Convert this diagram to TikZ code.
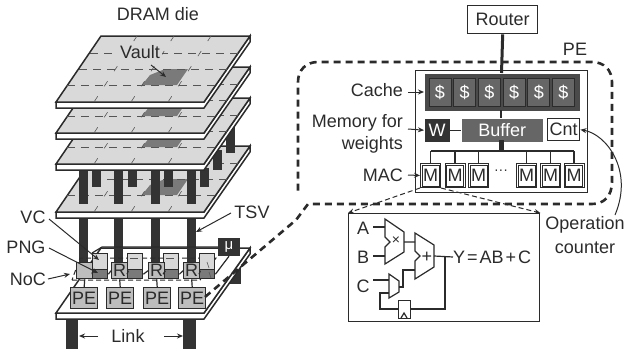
\documentclass[tikz,border=0pt]{standalone}
\usepackage{fontspec}
\setmainfont{Liberation Sans}
\usetikzlibrary{arrows.meta}
\definecolor{ink}{HTML}{2B2B2B}
\definecolor{plategray}{HTML}{D9D9D9}
\definecolor{vaultgray}{HTML}{7A7A7A}
\definecolor{pillar}{HTML}{333333}
\definecolor{midgray}{HTML}{BDBDBD}
\definecolor{cachegray}{HTML}{4A4A4A}
\definecolor{cellgray}{HTML}{666666}
\tikzset{
  lbl/.style={inner sep=0pt,font=\fontsize{18}{20}\selectfont,text=ink},
  smalllbl/.style={inner sep=0pt,font=\fontsize{14}{16}\selectfont,text=ink},
  ptr/.style={draw=ink,line width=1pt,-{Stealth[length=6pt,width=5pt]}},
  wire/.style={draw=ink,line width=1.2pt},
  plateedge/.style={draw=ink,line width=1.5pt},
  griddash/.style={draw=ink!80,line width=.6pt,dash pattern=on 8pt off 6pt},
  griddiag/.style={draw=ink!80,line width=.6pt,dash pattern=on 6pt off 12pt},
  tsvbar/.style={fill=pillar,draw=none},
  boxn/.style={draw=ink,line width=1.4pt,inner sep=0pt,anchor=north west,text=ink,font=\fontsize{18}{20}\selectfont},
  penode/.style={boxn,fill=midgray,minimum width=27pt,minimum height=21pt},
  rnode/.style={boxn,fill=midgray,minimum width=16pt,minimum height=16pt},
  mnode/.style={draw=ink,line width=1pt,inner sep=0pt,anchor=north west,text=ink,fill=white,font=\fontsize{18}{20}\selectfont,minimum width=20pt,minimum height=24pt},
  cellnode/.style={draw=ink,fill=cellgray,line width=1pt,inner sep=0pt,anchor=north west,minimum width=22pt,minimum height=28pt,text=white,font=\fontsize{18}{20}\selectfont},
  thickdash/.style={draw=ink,line width=2.6pt,dash pattern=on 7pt off 5pt},
  thindash/.style={draw=ink,line width=1pt,dash pattern=on 5pt off 3pt},
}
\newcommand{\myplate}[1]{%
  \begin{scope}[shift={(0,#1)}]
    \filldraw[plateedge,fill=white] (56,102) -- (204,102) -- (250,36) -- (250,42) -- (204,108) -- (56,108) -- cycle;
    \filldraw[plateedge,fill=plategray] (101,36) -- (250,36) -- (204,102) -- (56,102) -- cycle;
    \fill[vaultgray] (165,69) -- (188,69) -- (177,85) -- (142,85) -- (150,75) -- cycle;
    \draw[griddash] (90,53) -- (238,53) (79,69) -- (227,69) (67,85) -- (215,85);
    \foreach \a/\b in {137/94,174/131,211/168}{\draw[griddiag] (\a,36) -- (\b,102);}
  \end{scope}}
\begin{document}
\begin{tikzpicture}[x=1pt,y=-1pt]
\useasboundingbox (0,0) rectangle (627,351);
% legs and base die
\fill[pillar] (229,258) rectangle (241,284);
\fill[pillar] (66,319) rectangle (78,349);
\fill[pillar] (183,319) rectangle (196,349);
\filldraw[plateedge,fill=white] (56,313) -- (204,313) -- (250,248) -- (250,254) -- (204,319) -- (56,319) -- cycle;
\filldraw[plateedge,fill=white] (101,248) -- (250,248) -- (204,313) -- (56,313) -- cycle;
% lower TSV
\foreach \x in {79,114,151,187}{\fill[tsvbar] (\x,215) rectangle (\x+9,262);}
% logic die contents
\draw[thindash] (72,280) -- (200,280) -- (216,258) -- (80,258) -- cycle;
\foreach \x/\n in {92/a,127/b,163/c,199/d}{
  \node[boxn,fill=plategray,minimum width=15pt,minimum height=16pt] (vc\n) at (\x,253) {};
  \node[boxn,fill=vaultgray,minimum width=15pt,minimum height=9pt] (png\n) at (\x,269) {};
}
\draw[griddash] (130,258) -- (139,258) (166,258) -- (176,258);
\draw[griddash] (207,262) -- (209,268) (209,272) -- (211,278);
\node[rnode,fill=midgray] (ra) at (76,262) {};
\node[rnode] (rb) at (111,262) {R};
\node[rnode] (rc) at (148,262) {R};
\node[rnode] (rd) at (183,262) {R};
\draw[wire] (ra.east) -- (pnga.west) (pnga.east) -- (rb.west) (rb.east) -- (pngb.west) (pngb.east) -- (rc.west) (rc.east) -- (pngc.west) (pngc.east) -- (rd.west) (rd.east) -- (pngd.west);
\node[penode] (pea) at (70,287) {PE};
\node[penode] (peb) at (106,287) {PE};
\node[penode] (pec) at (143,287) {PE};
\node[penode] (ped) at (178,287) {PE};
\foreach \a/\b in {a/a,b/b,c/c,d/d}{\draw[wire] (r\a.south) -- (pe\b.north);}
\node[fill=pillar,text=white,inner sep=0pt,minimum width=22pt,minimum height=18pt,font=\fontsize{15}{16}\selectfont] (mu) at (229,247) {μ};
\draw[wire] (vca.north west) -- (102,247) -- (mu.west);
\draw[wire] (mu.south) -- (pngd.east);
% upper TSV behind plate 4
\myplate{110}
\foreach \x in {79,114,151,187}{\fill[tsvbar] (\x,168) rectangle (\x+9,204);}
\foreach \x in {92,128,164,200}{\fill[tsvbar] (\x,168) rectangle (\x+9,187);}
\fill[tsvbar] (213,150) rectangle (222,170);
\fill[tsvbar] (226,125) rectangle (235,153);
\myplate{62}
\myplate{31}
\myplate{0}
% left labels
\node[lbl] (dram) at (158,14) {DRAM die};
\node[lbl,fill=plategray,inner xsep=2pt] (vault) at (140,52) {Vault};
\coordinate (vaultpt) at (166,77);
\draw[ptr] (151,65) -- (vaultpt);
\node[lbl] (vclbl) at (33,217) {VC};
\node[lbl] (pnglbl) at (26,247) {PNG};
\node[lbl] (noclbl) at (28,279) {NoC};
\node[lbl] (tsvlbl) at (252,212) {TSV};
\node[lbl] (linklbl) at (128,336) {Link};
\coordinate (vcpt) at (99,260);
\coordinate (pngpt) at (98,273);
\coordinate (nocpt) at (70,274);
\coordinate (tsvpt) at (196,232);
\coordinate (lefta) at (79,336);
\coordinate (righta) at (183,336);
\draw[ptr] (49,219) -- (vcpt);
\draw[ptr] (49,248) -- (pngpt);
\draw[ptr] (48,279) -- (nocpt);
\draw[ptr] (231,213) -- (tsvpt);
\draw[ptr] (98,336) -- (lefta);
\draw[ptr] (164,336) -- (righta);
% PE detail
\coordinate (dashstart) at (205,297);
\draw[thickdash] (dashstart) -- (296,220) -- (308,204) -- (592,204) .. controls (604,204) and (612,196) .. (612,182) -- (612,82) .. controls (612,70) and (604,62) .. (592,62) -- (318,62) .. controls (306,62) and (298,70) .. (298,82) -- (298,195);
\node[boxn,fill=white,minimum width=70pt,minimum height=28pt] (router) at (467,5) {Router};
\node[lbl] (pelbl) at (575,49) {PE};
\node[boxn,fill=white,minimum width=172pt,minimum height=122pt] (pebox) at (415,70) {};
\node[boxn,draw=none,fill=cachegray,minimum width=155pt,minimum height=37pt] (cache) at (424,73) {};
\draw[line width=3pt,draw=ink] (router.south) -- (501.5,73);
\foreach \i in {0,...,5}{\node[cellnode] (c\i) at ({428.5+24.7*\i},78) {\$};}
\node[boxn,draw=none,fill=pillar,text=white,minimum width=25pt,minimum height=23pt] (wbox) at (424,118) {W};
\node[boxn,draw=none,fill=cellgray,text=white,minimum width=81pt,minimum height=23pt] (buffer) at (461,118) {Buffer};
\node[boxn,fill=white,minimum width=32pt,minimum height=22pt] (cnt) at (547,118) {Cnt};
\draw[wire] (501,110) -- (501,118);
\draw[wire] (wbox.east) -- (buffer.west);
\draw[line width=5pt,draw=ink] (501.5,140) -- (501.5,151);
\foreach \x/\n in {420/1,444.5/2,468/3,516/4,540/5,563.5/6}{
  \node[mnode] (m\n) at (\x,163) {M};
  \draw[draw=ink,line width=1pt] (m\n.north west) ++(2,2) rectangle ([shift={(-2,-2)}]m\n.south east);
  \draw[wire] (m\n.north) -- (m\n.north |- 0,151);
}
\draw[wire] (m1.north |- 0,151) -- (m6.north |- 0,151);
\node[inner sep=0pt,text=ink,font=\fontsize{14}{16}\selectfont] (dots) at (501,172) {···};
\node[lbl,anchor=east] (cachelbl) at (403,90) {Cache};
\node[lbl,anchor=east] (memlbl) at (403,123) {Memory for};
\node[lbl,anchor=east] (weilbl) at (403,145) {weights};
\node[lbl,anchor=east] (maclbl) at (403,175) {MAC};
\draw[ptr] (408,92) -- (cache.west |- 0,92);
\draw[ptr] (408,129) -- (wbox.west);
\draw[ptr] (408,175) -- (m1.west);
% MAC detail
\node[boxn,fill=white,minimum width=191pt,minimum height=108pt] (macbox) at (348,213) {};
\draw[thindash,-{Stealth[length=6pt,width=5pt]}] (m1.south west) -- (macbox.north west);
\draw[thindash,-{Stealth[length=6pt,width=5pt]}] (m1.south east) -- (macbox.north east);
\node[lbl] (la) at (363,228) {A};
\node[lbl] (lb) at (363,257) {B};
\node[lbl] (lc) at (363,286) {C};
\node[lbl,anchor=west] (ly) at (453,257) {Y\hspace{2pt}=\hspace{2pt}AB\hspace{2pt}+\hspace{2pt}C};
\coordinate (multout) at (404,242);
\coordinate (addout) at (434,256);
\draw[wire,fill=white] (385,219) -- (404,232) -- (404,252) -- (385,264) -- (385,247) -- (390,242) -- (385,237) -- cycle;
\draw[wire,fill=white] (415,233) -- (434,245) -- (434,267) -- (415,279) -- (415,261) -- (420,256) -- (415,251) -- cycle;
\draw[wire,fill=white] (389,274) -- (399,281) -- (399,292) -- (389,298) -- cycle;
\node[smalllbl] (times) at (396,241) {×};
\node[lbl] (plus) at (427,257) {+};
\node[boxn,fill=white,minimum width=12pt,minimum height=18pt] (reg) at (398,300) {};
\draw[wire] (401,318) -- (404,313) -- (407,318);
\draw[wire] (373,227) -- (385,227) (373,256) -- (385,256) (373,280) -- (389,280);
\draw[wire] (multout) -- (415,242) (addout) -- (ly.west);
\draw[wire] (399,287) -- (403,287) -- (403,270) -- (415,270);
\draw[wire] (445,256) -- (445,309) -- (reg.east |- 0,309);
\draw[wire] (reg.west |- 0,309) -- (380,309) -- (380,293) -- (389,293);
% counter label
\node[lbl] (oplbl) at (585,225) {Operation};
\node[lbl] (coulbl) at (585,248) {counter};
\draw[draw=ink,line width=1pt,{Stealth[length=6pt,width=5pt]}-] (cnt.east) .. controls (606,134) and (634,170) .. (615,215);
\end{tikzpicture}
\end{document}
